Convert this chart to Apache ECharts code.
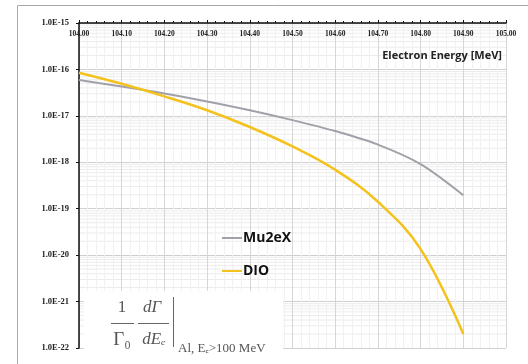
<!DOCTYPE html>
<html>
<head>
<meta charset="utf-8">
<script src="https://cdn.jsdelivr.net/npm/echarts@6/dist/echarts.min.js"></script>
<style>
  html, body { margin: 0; padding: 0; background: #fff; }
  #chart { width: 528px; height: 364px; }
</style>
</head>
<body>
<div id="chart"></div>
<script>
// Electron energy grid [MeV]
const energy = [104.0, 104.1, 104.2, 104.3, 104.4, 104.5, 104.6, 104.7, 104.8, 104.9];
// Normalised spectra (1/Γ0 dΓ/dE)
const mu2eX = [5.9e-17, 4.27e-17, 3.02e-17, 2.04e-17, 1.32e-17, 8.1e-18, 4.7e-18, 2.4e-18, 9.1e-19, 1.95e-19];
const dio   = [8.5e-17, 4.9e-17, 2.63e-17, 1.32e-17, 5.75e-18, 2.19e-18, 6.9e-19, 1.41e-19, 1.35e-20, 2.0e-22];
// Axis ranges
const xRange = [104, 105];
const decades = [-22, -21, -20, -19, -18, -17, -16, -15];
const xName = 'Electron Energy [MeV]';

const pairs = arr => energy.map((e, i) => [e, arr[i]]);

// faint horizontal rules at 2..9 × 10^k inside each decade, drawn as broken polyline
const minorGrid = [];
for (let k = decades[0]; k < decades[decades.length - 1]; k++) {
  for (let m = 2; m <= 9; m++) {
    const v = m * Math.pow(10, k);
    minorGrid.push([xRange[0], v], [xRange[1], v], [xRange[1], '-']);
  }
}

const chart = echarts.init(document.getElementById('chart'), null, { renderer: 'canvas' });
const tickFont = { fontFamily: 'Liberation Serif', fontWeight: 'bold', color: '#222' };
const mathText = (x, y, text, size, italic, align) => ({
  type: 'text', x, y, z: 60, silent: true,
  style: { text, fontFamily: 'Liberation Serif', fontSize: size, fontStyle: italic ? 'italic' : 'normal',
    fill: '#555', align: align || 'center', verticalAlign: 'middle' }
});
const rule = (x1, y1, x2, y2) => ({
  type: 'line', z: 60, silent: true, shape: { x1, y1, x2, y2 }, style: { stroke: '#666', lineWidth: 1 }
});

chart.setOption({
  animation: false,
  backgroundColor: '#fff',
  grid: { left: 79, top: 23, right: 22, bottom: 16, containLabel: false, outerBoundsMode: 'none' },
  xAxis: {
    type: 'value', position: 'top', min: xRange[0], max: xRange[1], interval: 0.1,
    axisLine: { show: true, onZero: false, lineStyle: { color: '#111', width: 1.5 } },
    axisTick: { show: true, inside: false, length: 3, lineStyle: { color: '#111' } },
    minorTick: { show: true, splitNumber: 5, length: 2, lineStyle: { color: '#111' } },
    axisLabel: Object.assign({ inside: true, margin: 7, fontSize: 7.5,
      formatter: v => v.toFixed(2) }, tickFont),
    splitLine: { show: true, lineStyle: { color: '#d6d6d6', width: 1 } },
    minorSplitLine: { show: true, lineStyle: { color: '#f1f1f1', width: 1 } }
  },
  yAxis: {
    type: 'log', logBase: 10, min: 0.99999999 * Math.pow(10, decades[0]), max: Math.pow(10, decades[decades.length - 1]),
    axisLine: { show: true, lineStyle: { color: '#111', width: 1.5 } },
    axisTick: { show: true, length: 3, lineStyle: { color: '#111' } },
    axisLabel: Object.assign({ margin: 10, fontSize: 8.5, showMinLabel: true, showMaxLabel: true,
      formatter: v => '1.0E' + Math.round(Math.log10(v)) }, tickFont),
    splitLine: { show: true, lineStyle: { color: '#d0d0d0', width: 1 } }
  },
  legend: {
    orient: 'vertical', left: 217, top: 226, itemGap: 19,
    icon: 'rect', itemWidth: 20, itemHeight: 2,
    textStyle: { fontFamily: 'Open Sans', fontWeight: 'bold', fontSize: 14, color: '#111', padding: [0, 0, 0, -4] },
    data: ['Mu2eX', 'DIO']
  },
  graphic: [
    // chart frame
    { type: 'rect', z: -10, silent: true, shape: { x: 17.5, y: 5.5, width: 530, height: 380 },
      style: { fill: null, stroke: '#a8a8a8', lineWidth: 1 } },
    { type: 'text', right: 26, top: 50, z: 60,
      style: { text: xName, fontFamily: 'Open Sans', fontWeight: 'bold', fontSize: 11, fill: '#222' } },
    // rate formula on a white box
    { type: 'rect', z: 50, silent: true, shape: { x: 84, y: 291, width: 199, height: 70 }, style: { fill: '#fff' } },
    mathText(122, 308, '1', 17, false),
    rule(111, 323.5, 134, 323.5),
    mathText(122, 340, 'Γ₀', 19, false),
    mathText(152, 308, 'dΓ', 17, true),
    rule(138, 323.5, 169, 323.5),
    mathText(154, 340, 'dEₑ', 17, true),
    rule(173.5, 297, 173.5, 347),
    mathText(178, 349, 'Al, Eₑ>100 MeV', 13, false, 'left')
  ],
  series: [
    {
      name: 'minor-grid', type: 'line', data: minorGrid, silent: true, z: -1,
      showSymbol: false, connectNulls: false, clip: true,
      lineStyle: { color: '#ececec', width: 1 }, itemStyle: { color: '#ececec' },
      emphasis: { disabled: true }, tooltip: { show: false }
    },
    {
      name: 'Mu2eX', type: 'line', data: pairs(mu2eX), smooth: 0.3, showSymbol: false, z: 5,
      itemStyle: { color: '#a2a1aa' }, lineStyle: { color: '#a2a1aa', width: 2 }
    },
    {
      name: 'DIO', type: 'line', data: pairs(dio), smooth: 0.4, showSymbol: false, z: 6,
      itemStyle: { color: '#f3c21c' }, lineStyle: { color: '#f3c21c', width: 2.5 }
    }
  ]
});
</script>
</body>
</html>
